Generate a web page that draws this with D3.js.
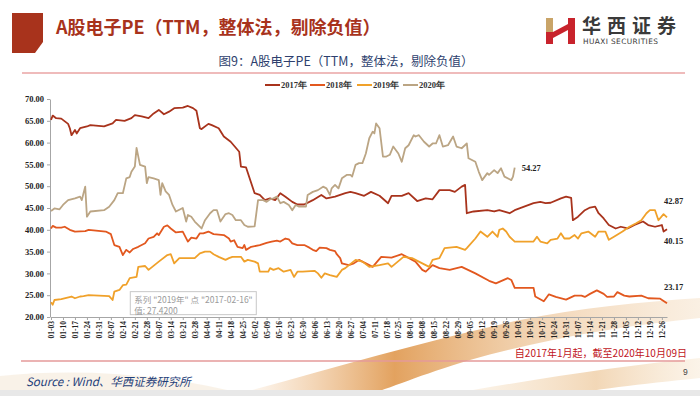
<!DOCTYPE html>
<html>
<head>
<meta charset="utf-8">
<script src="https://cdn.jsdelivr.net/npm/d3@7"></script>
<style>
  body { margin: 0; background: #fff; }
  svg { display: block; font-family: "Liberation Serif", serif; }
</style>
</head>
<body>
<svg id="chart" width="700" height="396"></svg>
<script>
// DATA (x = month-day on the 2017 calendar axis, y = PE)
const seriesNames = ["2017年", "2018年", "2019年", "2020年"];
const seriesColors = ["#A8331C", "#E2581F", "#F0A12A", "#BBA584"];

const pe2017 = [
  ["01-03",65.2],["01-04",66.2],["01-06",65.6],["01-09",65.5],["01-13",64.3],["01-14",63.3],["01-15",61.7],
  ["01-17",62.9],["01-18",62.1],["01-20",63.3],["01-24",63.7],["01-26",64.0],["02-03",63.7],["02-08",64.4],
  ["02-10",65.2],["02-15",65.0],["02-19",65.6],["02-21",66.3],["02-25",66.0],["03-01",65.6],["03-04",66.7],
  ["03-07",67.5],["03-10",66.5],["03-13",67.1],["03-16",67.9],["03-21",68.0],["03-24",68.4],["03-27",67.9],
  ["03-29",67.3],["03-31",63.3],["04-01",63.1],["04-05",64.3],["04-07",64.0],["04-11",63.3],["04-14",61.4],
  ["04-18",60.2],["04-23",57.9],["04-24",54.5],["04-27",54.3],["05-02",48.4],["05-05",48.0],["05-08",46.8],
  ["05-11",47.2],["05-14",46.8],["05-17",48.4],["05-20",47.6],["05-24",46.4],["05-27",45.8],["05-31",45.8],
  ["06-05",46.8],["06-10",48.0],["06-13",47.2],["06-18",47.6],["06-24",48.4],["06-27",48.7],["06-30",48.4],
  ["07-05",47.8],["07-09",48.7],["07-14",47.8],["07-19",46.1],["07-21",47.8],["07-27",47.8],["07-31",48.4],
  ["08-05",46.6],["08-10",47.2],["08-14",47.0],["08-18",49.1],["08-24",49.1],["08-27",48.7],["08-31",49.9],
  ["09-02",50.3],["09-03",43.8],["09-07",44.2],["09-15",44.5],["09-19",44.2],["09-22",44.5],["09-28",43.8],
  ["10-01",44.5],["10-12",46.1],["10-16",46.4],["10-19",46.1],["10-22",46.2],["10-28",47.2],["10-31",47.6],
  ["11-03",47.3],["11-04",42.2],["11-07",43.0],["11-11",44.5],["11-14",45.1],["11-17",45.3],["11-19",43.8],
  ["11-22",42.6],["11-25",41.1],["11-29",40.3],["12-02",40.7],["12-06",40.3],["12-10",41.1],["12-15",41.9],
  ["12-18",41.1],["12-22",40.7],["12-26",41.1],["12-27",39.6],["12-29",40.15]
];

const pe2018 = [
  ["01-03",40.3],["01-04",40.9],["01-06",40.5],["01-09",40.5],["01-11",40.7],["01-14",40.0],["01-17",39.6],
  ["01-23",39.7],["01-25",40.0],["02-04",39.6],["02-07",39.0],["02-09",36.5],["02-12",36.1],["02-14",34.2],
  ["02-16",35.4],["02-18",34.8],["02-20",35.6],["02-23",36.1],["02-27",36.9],["03-01",38.0],["03-04",38.4],
  ["03-06",39.2],["03-07",38.8],["03-10",40.7],["03-12",41.0],["03-14",40.3],["03-17",39.4],["03-21",39.6],
  ["03-24",37.3],["03-26",38.2],["03-29",38.0],["03-31",39.2],["04-02",39.2],["04-05",39.6],["04-08",39.0],
  ["04-14",38.8],["04-17",38.0],["04-18",37.3],["04-20",37.6],["04-22",36.1],["04-25",35.8],["04-26",36.5],
  ["04-27",35.4],["04-30",36.1],["05-05",36.5],["05-09",37.0],["05-12",37.3],["05-15",37.5],["05-17",37.3],
  ["05-20",38.0],["05-22",37.8],["05-24",36.9],["05-27",36.5],["05-31",36.5],["06-03",35.9],["06-05",35.4],
  ["06-07",35.1],["06-09",35.9],["06-13",35.8],["06-15",35.4],["06-18",35.1],["06-19",34.4],["06-21",33.5],
  ["06-22",32.3],["06-26",31.9],["06-29",32.3],["07-02",33.1],["07-06",32.3],["07-10",31.5],["07-15",33.8],
  ["07-21",33.6],["07-27",34.4],["08-04",32.7],["08-08",30.8],["08-10",30.4],["08-14",31.9],["08-18",31.2],
  ["08-24",30.8],["08-31",31.5],["09-08",30.0],["09-16",28.3],["09-20",27.7],["09-27",28.9],["09-29",28.5],
  ["10-01",26.7],["10-12",26.7],["10-13",24.7],["10-18",23.6],["10-21",25.2],["10-25",24.6],["10-31",24.0],
  ["11-05",24.9],["11-09",24.9],["11-11",24.6],["11-14",25.3],["11-18",26.1],["11-22",25.3],["11-24",24.6],
  ["11-28",24.7],["11-30",25.7],["12-04",24.9],["12-07",24.7],["12-14",24.9],["12-18",24.3],["12-25",24.2],
  ["12-29",23.17]
];

const pe2019 = [
  ["01-03",23.4],["01-04",22.8],["01-05",23.9],["01-09",24.1],["01-12",24.4],["01-15",24.7],["01-17",24.3],
  ["01-20",24.7],["01-22",24.8],["01-25",25.0],["02-06",24.8],["02-08",23.9],["02-09",25.8],["02-12",26.2],
  ["02-14",27.3],["02-16",27.42],["02-18",28.9],["02-22",29.2],["02-23",31.5],["02-27",31.7],["03-01",30.8],
  ["03-07",32.7],["03-12",34.2],["03-14",34.4],["03-16",32.3],["03-19",33.5],["03-25",33.5],["03-28",33.5],
  ["03-31",34.6],["04-03",35.0],["04-06",35.0],["04-08",34.4],["04-11",33.8],["04-15",33.1],["04-17",33.5],
  ["04-19",33.8],["04-24",33.8],["04-26",32.7],["04-28",33.1],["05-02",32.7],["05-04",32.3],["05-05",30.4],
  ["05-10",30.4],["05-11",31.2],["05-13",30.8],["05-16",31.2],["05-19",30.4],["05-23",30.8],["05-25",29.2],
  ["05-27",30.4],["05-30",30.4],["06-06",30.6],["06-08",30.0],["06-10",29.0],["06-12",30.0],["06-15",29.6],
  ["06-19",29.2],["06-22",30.8],["06-24",31.2],["06-30",33.1],["07-04",32.7],["07-08",31.5],["07-14",31.9],
  ["07-19",32.3],["07-21",31.5],["07-28",33.8],["08-02",33.5],["08-10",31.9],["08-12",31.5],["08-14",33.1],
  ["08-18",33.5],["08-21",35.8],["08-28",36.1],["09-02",35.4],["09-03",35.8],["09-08",38.0],["09-11",39.6],
  ["09-15",38.4],["09-18",39.6],["09-21",38.4],["09-22",40.0],["09-24",40.3],["09-26",39.6],["09-28",38.4],
  ["10-01",37.3],["10-12",37.3],["10-14",38.4],["10-16",37.3],["10-20",36.9],["10-22",37.7],["10-26",38.0],
  ["10-28",39.2],["10-30",38.0],["11-02",38.0],["11-05",38.8],["11-07",38.0],["11-09",39.2],["11-13",39.6],
  ["11-17",38.4],["11-19",39.6],["11-23",39.6],["11-25",37.7],["11-28",38.4],["12-03",39.6],["12-07",40.7],
  ["12-11",41.5],["12-14",42.2],["12-17",43.8],["12-19",44.5],["12-22",44.5],["12-24",42.2],["12-27",43.6],
  ["12-29",42.87]
];

const pe2020 = [
  ["01-03",44.3],["01-05",44.9],["01-08",44.7],["01-10",45.7],["01-13",46.8],["01-17",47.2],["01-20",47.6],
  ["01-21",46.8],["01-22",48.4],["01-23",49.9],["01-24",43.0],["01-26",44.2],["02-03",44.5],["02-06",45.3],
  ["02-09",46.8],["02-11",48.4],["02-14",48.4],["02-16",51.8],["02-18",52.1],["02-19",53.3],["02-21",54.5],
  ["02-22",58.8],["02-24",54.9],["02-27",54.5],["02-28",50.7],["03-01",52.1],["03-04",51.8],["03-07",51.4],
  ["03-08",48.0],["03-09",50.7],["03-11",48.8],["03-13",48.0],["03-15",45.7],["03-17",44.2],["03-21",45.0],
  ["03-23",41.9],["03-24",43.4],["03-26",43.0],["03-28",41.9],["04-01",40.3],["04-03",42.2],["04-06",43.8],
  ["04-08",44.5],["04-10",44.5],["04-12",41.9],["04-15",43.6],["04-17",43.8],["04-19",43.4],["04-21",42.2],
  ["04-24",42.2],["04-26",41.1],["04-28",40.7],["05-02",40.8],["05-04",46.8],["05-07",46.8],["05-09",46.4],
  ["05-11",47.0],["05-13",47.2],["05-15",47.6],["05-17",46.1],["05-19",46.4],["05-22",45.7],["05-24",44.5],
  ["05-26",45.7],["05-28",45.3],["06-01",45.3],["06-02",48.0],["06-05",48.7],["06-08",49.1],["06-11",49.9],
  ["06-13",49.5],["06-15",48.0],["06-16",49.5],["06-18",50.3],["06-20",49.5],["06-22",51.8],["06-25",52.6],
  ["06-27",52.6],["06-28",52.2],["06-30",54.9],["07-02",55.3],["07-04",55.3],["07-06",57.5],["07-08",61.0],
  ["07-10",62.5],["07-11",62.1],["07-12",64.4],["07-14",63.3],["07-16",56.8],["07-18",56.8],["07-20",57.2],
  ["07-22",59.1],["07-25",57.5],["07-27",55.6],["07-29",58.7],["07-31",59.4],["08-03",61.7],["08-04",61.4],
  ["08-06",61.7],["08-09",60.2],["08-12",59.1],["08-14",59.8],["08-16",59.8],["08-18",61.7],["08-20",59.1],
  ["08-23",59.4],["08-26",61.4],["08-28",59.1],["08-31",58.7],["09-03",59.8],["09-04",56.4],["09-08",55.6],
  ["09-10",53.3],["09-12",51.4],["09-15",53.0],["09-16",52.6],["09-19",53.7],["09-21",53.0],["09-23",54.1],
  ["09-25",52.2],["09-28",51.6],["09-29",51.4],["09-30",52.2],["10-01",54.27]
];

const yTicks = [20, 25, 30, 35, 40, 45, 50, 55, 60, 65, 70];
const firstTick = "01-03";
const tickCount = 52; // weekly labels 01-03 ... 12-26

const tooltipLines = ['系列 "2019年" 点 "2017-02-16"', '值: 27.4200'];

// LAYOUT
const svg = d3.select('#chart');
const parse = d3.timeParse('%Y-%m-%d');
const toDate = md => parse('2017-' + md);
const fmtTick = d3.timeFormat('%m-%d');

const x = d3.scaleTime()
  .domain([toDate('01-03'), toDate('12-29')])
  .range([51, 667]);
const y = d3.scaleLinear().domain([20, 70]).range([317, 99]);

const allSeries = [pe2017, pe2018, pe2019, pe2020].map((vals, i) => ({
  name: seriesNames[i],
  color: seriesColors[i],
  values: vals.map(([d, v]) => ({ date: toDate(d), value: v }))
}));

// background decoration (swooshes near the bottom)
const defs = svg.append('defs');
const g1 = defs.append('linearGradient').attr('id', 'swoosh1').attr('x1', '0').attr('x2', '1');
g1.append('stop').attr('offset', '0').attr('stop-color', '#E9A45A').attr('stop-opacity', 0);
g1.append('stop').attr('offset', '0.35').attr('stop-color', '#D9832A').attr('stop-opacity', 0.75);
g1.append('stop').attr('offset', '0.65').attr('stop-color', '#E3A35C').attr('stop-opacity', 0.45);
g1.append('stop').attr('offset', '1').attr('stop-color', '#F1D3AE').attr('stop-opacity', 0.35);
const g2 = defs.append('linearGradient').attr('id', 'swoosh2').attr('x1', '0').attr('x2', '1');
g2.append('stop').attr('offset', '0').attr('stop-color', '#F3D9B5').attr('stop-opacity', 0.2);
g2.append('stop').attr('offset', '0.6').attr('stop-color', '#E8B77C').attr('stop-opacity', 0.55);
g2.append('stop').attr('offset', '1').attr('stop-color', '#F3D9B5').attr('stop-opacity', 0.3);

const deco = svg.append('g');
deco.append('path')
  .attr('d', 'M230,396 C320,372 420,342 520,320 C580,308 640,302 700,298 L700,318 C620,326 540,340 470,360 C420,375 390,388 365,396 Z')
  .attr('fill', 'url(#swoosh1)');
deco.append('path')
  .attr('d', 'M440,396 C540,378 620,366 700,358 L700,378 C640,384 590,390 560,396 Z')
  .attr('fill', 'url(#swoosh2)');
deco.append('path')
  .attr('d', 'M0,376 C80,368 170,374 250,396 L0,396 Z')
  .attr('fill', '#F2E2CC').attr('opacity', 0.45);
deco.append('rect').attr('x', 0).attr('y', 390).attr('width', 700).attr('height', 6).attr('fill', '#E8E8E8');

// header
svg.append('polygon')
  .attr('points', '12,13 43,13 43,42 35,53 12,53')
  .attr('fill', '#A8331C');
svg.append('text')
  .attr('x', 56).attr('y', 34)
  .attr('font-family', '"Noto Sans CJK SC", sans-serif')
  .attr('font-size', 18).attr('font-weight', 'bold')
  .attr('fill', '#A8331C')
  .text('A股电子PE（TTM，整体法，剔除负值）');

// logo
const logo = svg.append('g');
logo.append('rect').attr('x', 546).attr('y', 18).attr('width', 7).attr('height', 14).attr('fill', '#C9A468');
logo.append('rect').attr('x', 546).attr('y', 32).attr('width', 7).attr('height', 12).attr('fill', '#C8232C');
logo.append('polygon').attr('points', '553,32 568,24 568,30 553,38').attr('fill', '#C8232C');
logo.append('rect').attr('x', 568).attr('y', 18).attr('width', 7).attr('height', 26).attr('fill', '#C8232C');
logo.append('text')
  .attr('x', 582).attr('y', 33)
  .attr('font-family', '"Noto Sans CJK SC", sans-serif')
  .attr('font-size', 19).attr('font-weight', 'bold')
  .attr('letter-spacing', 6)
  .attr('fill', '#3A3A3A')
  .text('华西证券');
logo.append('text')
  .attr('x', 583).attr('y', 44)
  .attr('font-family', '"DejaVu Sans", sans-serif')
  .attr('font-size', 7.4)
  .attr('letter-spacing', 0.4)
  .attr('fill', '#3A3A3A')
  .text('HUAXI SECURITIES');

// subtitle + rule
svg.append('text')
  .attr('x', 346).attr('y', 66)
  .attr('text-anchor', 'middle')
  .attr('font-family', '"Noto Sans CJK SC", sans-serif')
  .attr('font-size', 12.5)
  .attr('fill', '#2E3F6E')
  .text('图9：A股电子PE（TTM，整体法，剔除负值）');
svg.append('line')
  .attr('x1', 22).attr('x2', 685).attr('y1', 73).attr('y2', 73)
  .attr('stroke', '#E07878').attr('stroke-width', 1.2);

// legend
const legendX = [265, 310, 357, 403];
const legend = svg.append('g')
  .selectAll('g')
  .data(allSeries)
  .join('g')
  .attr('transform', (d, i) => `translate(${legendX[i]},85)`);
legend.append('line')
  .attr('x1', 0).attr('x2', 15)
  .attr('stroke', d => d.color).attr('stroke-width', 2);
legend.append('text')
  .attr('x', 16).attr('dy', '0.35em')
  .attr('font-size', 8.5).attr('font-weight', 'bold')
  .attr('fill', '#333')
  .text(d => d.name);

// axes
const xTickValues = d3.range(tickCount).map(i => d3.timeDay.offset(toDate(firstTick), 7 * i));

const xAxis = svg.append('g')
  .attr('transform', 'translate(0,317)')
  .call(d3.axisBottom(x).tickValues(xTickValues).tickFormat(fmtTick).tickSize(3).tickSizeOuter(0));
xAxis.select('.domain').attr('stroke', '#A6A6A6');
xAxis.selectAll('.tick line').attr('stroke', '#A6A6A6');
xAxis.selectAll('.tick text')
  .attr('font-family', '"Liberation Serif", serif')
  .attr('font-size', 7.5).attr('font-weight', 'bold')
  .attr('fill', '#222')
  .attr('transform', 'rotate(-90)')
  .attr('text-anchor', 'end')
  .attr('x', -4).attr('y', 0).attr('dy', '0.35em');

const yAxis = svg.append('g')
  .attr('transform', 'translate(50,0)')
  .call(d3.axisLeft(y).tickValues(yTicks).tickFormat(d3.format('.2f')).tickSize(3).tickSizeOuter(0));
yAxis.select('.domain').attr('stroke', '#A6A6A6');
yAxis.selectAll('.tick line').attr('stroke', '#A6A6A6');
yAxis.selectAll('.tick text')
  .attr('font-family', '"Liberation Serif", serif')
  .attr('font-size', 8.5).attr('font-weight', 'bold')
  .attr('fill', '#222');

// lines
const line = d3.line().x(d => x(d.date)).y(d => y(d.value));
svg.append('g')
  .selectAll('path')
  .data(allSeries)
  .join('path')
  .attr('fill', 'none')
  .attr('stroke', d => d.color)
  .attr('stroke-width', 1.8)
  .attr('stroke-linejoin', 'round')
  .attr('d', d => line(d.values));

// end labels
const endOffsets = [[-3, 12, 'start'], [-3, -16, 'start'], [-3, -16, 'start'], [7, 0, 'start']];
svg.append('g')
  .selectAll('text')
  .data(allSeries)
  .join('text')
  .attr('x', (d, i) => x(d.values[d.values.length - 1].date) + endOffsets[i][0])
  .attr('y', (d, i) => y(d.values[d.values.length - 1].value) + endOffsets[i][1])
  .attr('dy', '0.35em')
  .attr('font-size', 8.5).attr('font-weight', 'bold')
  .attr('fill', '#222')
  .text(d => d3.format('.2f')(d.values[d.values.length - 1].value));

// tooltip at 2019 / 02-16
const tipPoint = allSeries[2].values.find(d => fmtTick(d.date) === '02-16');
const tip = svg.append('g')
  .attr('transform', `translate(${x(tipPoint.date) + 4},${y(tipPoint.value) + 7})`);
tip.append('rect')
  .attr('width', 126).attr('height', 23)
  .attr('fill', '#fff').attr('fill-opacity', 0.9)
  .attr('stroke', '#C8C8C8');
tip.selectAll('text')
  .data(tooltipLines)
  .join('text')
  .attr('x', 4).attr('y', (d, i) => 8 + i * 11)
  .attr('dy', '0.35em')
  .attr('font-family', '"Noto Sans CJK SC", sans-serif')
  .attr('font-size', 8.5)
  .attr('fill', '#9A9A9A')
  .text(d => d);

// footer
svg.append('text')
  .attr('x', 687).attr('y', 353)
  .attr('text-anchor', 'end')
  .attr('dy', '0.35em')
  .attr('font-family', '"Noto Sans CJK SC", sans-serif')
  .attr('font-size', 10)
  .attr('fill', '#C0141C')
  .text('自2017年1月起，截至2020年10月09日');
svg.append('line')
  .attr('x1', 21).attr('x2', 685).attr('y1', 361).attr('y2', 361)
  .attr('stroke', '#E59A9A').attr('stroke-width', 1.5);
svg.append('text')
  .attr('x', 26).attr('y', 382)
  .attr('dy', '0.35em')
  .attr('font-family', '"Noto Sans CJK SC", sans-serif')
  .attr('font-size', 11.5).attr('font-style', 'italic')
  .attr('fill', '#1F3F7A')
  .text('Source : Wind、华西证券研究所');
svg.append('text')
  .attr('x', 683).attr('y', 372)
  .attr('dy', '0.35em')
  .attr('font-family', '"Liberation Sans", sans-serif')
  .attr('font-size', 8.5)
  .attr('fill', '#444')
  .text('9');
</script>
</body>
</html>
